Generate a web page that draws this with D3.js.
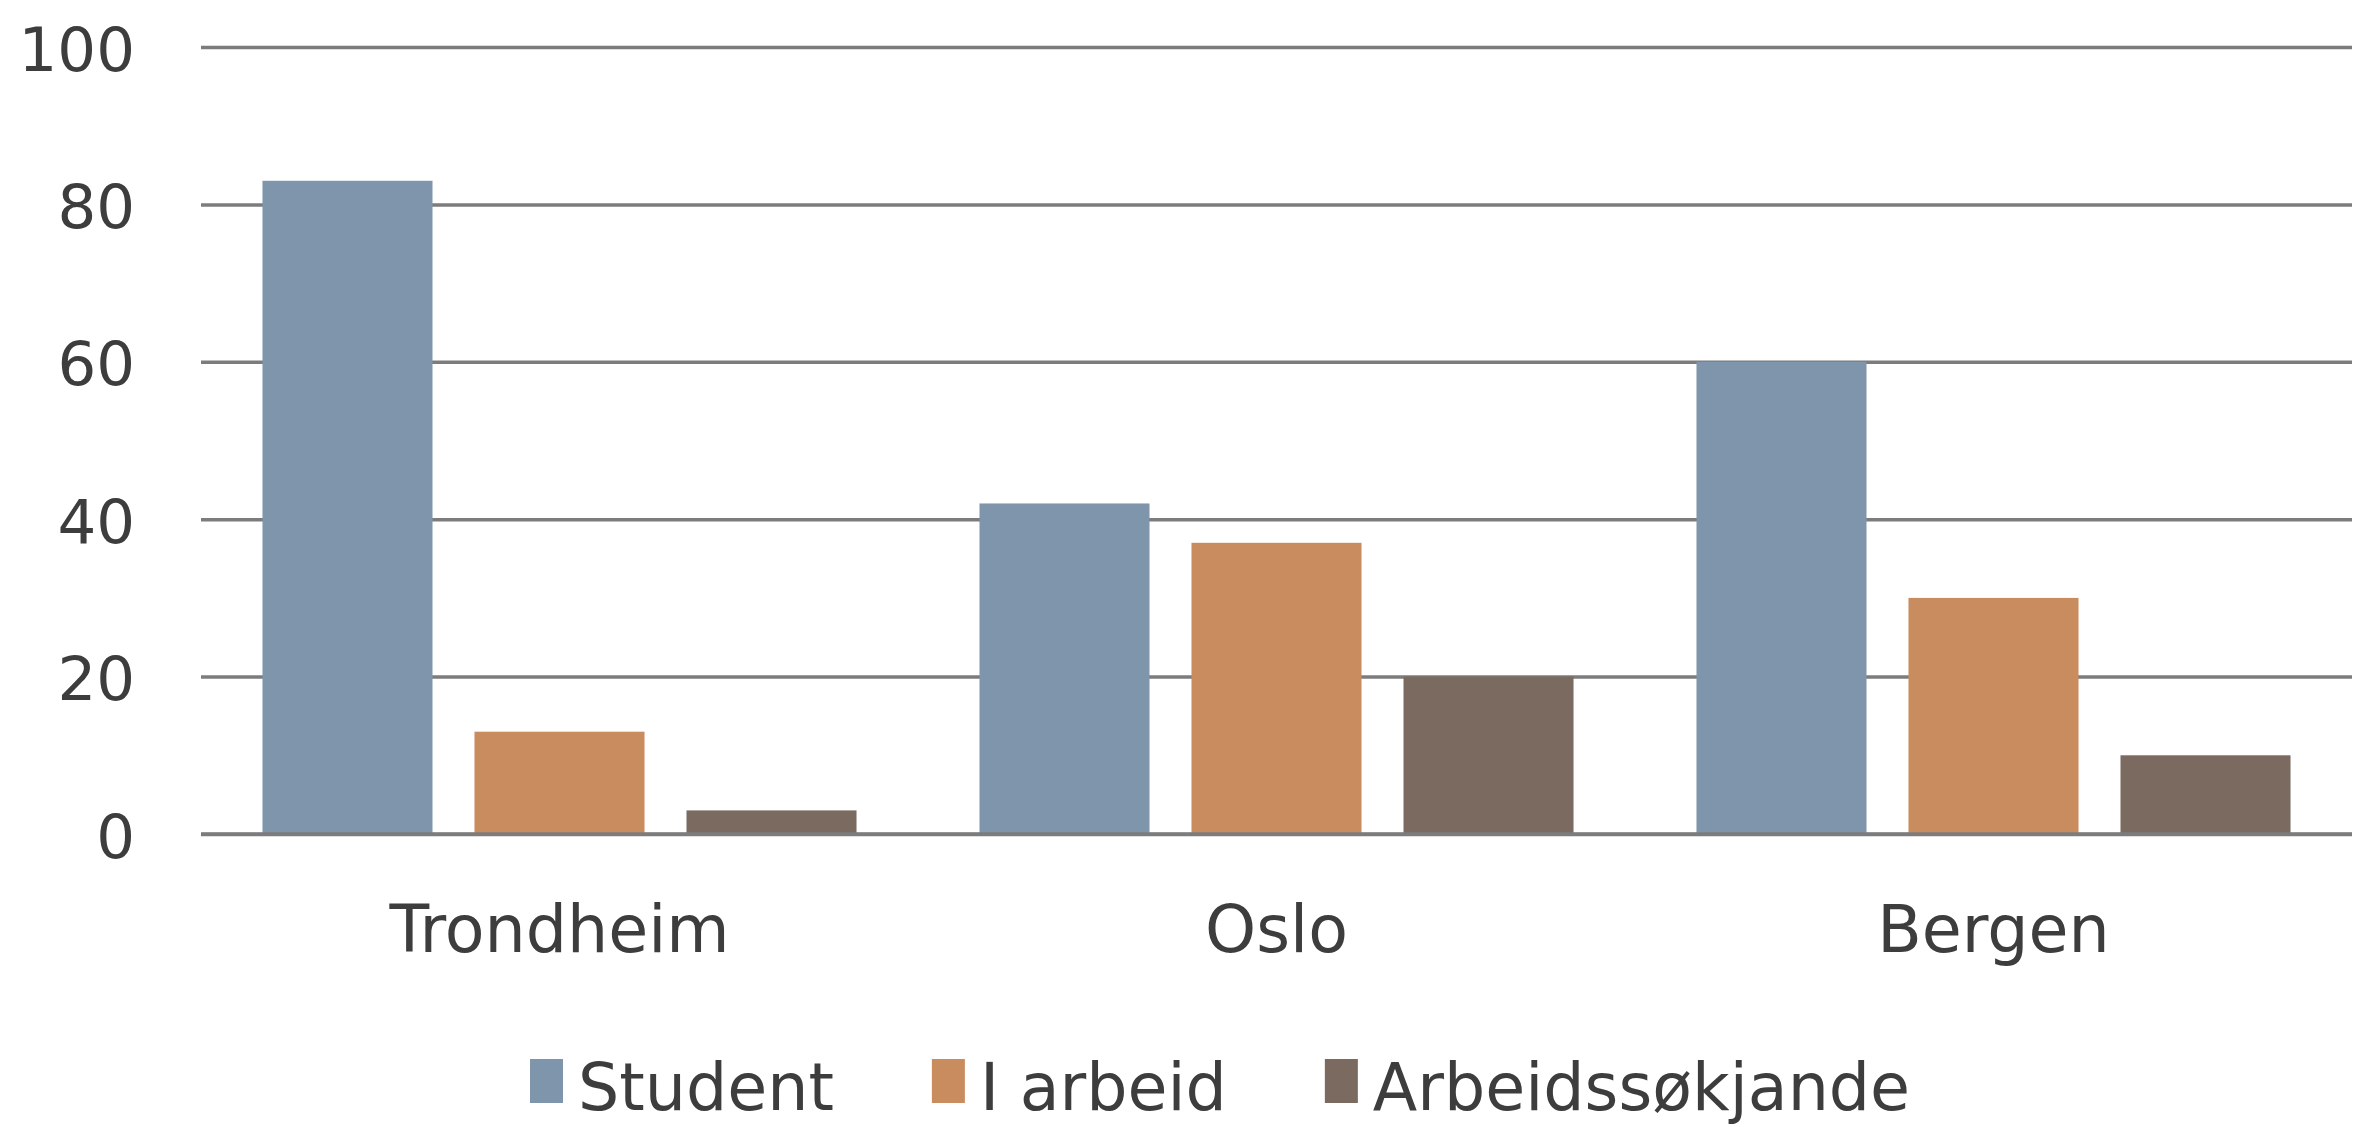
<!DOCTYPE html>
<html>
<head>
<meta charset="utf-8">
<script src="https://cdn.jsdelivr.net/npm/d3@7/dist/d3.min.js"></script>
<style>
  html, body { margin: 0; padding: 0; background: #ffffff; }
  svg { display: block; }
</style>
</head>
<body>
<svg id="chart" width="2375" height="1127"></svg>
<script>
// ---- data ----
const categories = ["Trondheim", "Oslo", "Bergen"];
const seriesNames = ["Student", "I arbeid", "Arbeidssøkjande"];
const studentValues = [83, 42, 60];
const iArbeidValues = [13, 37, 30];
const arbeidssokjandeValues = [3, 20, 10];
const yTicks = [0, 20, 40, 60, 80, 100];
const seriesColors = ["#7f95ac", "#c98c5f", "#7a6a5f"];

const seriesValues = [studentValues, iArbeidValues, arbeidssokjandeValues];
const table = categories.map((c, i) => ({
  category: c,
  values: seriesNames.map((s, j) => ({ series: s, value: seriesValues[j][i] }))
}));

// ---- layout ----
const plot = { left: 201, right: 2352, top: 47, bottom: 834 };
const font = "'DejaVu Sans', sans-serif";
const fontSize = 65;
const tickFontSize = 61;
const textColor = "#3d3d3d";

const svg = d3.select("#chart");

const x0 = d3.scaleBand().domain(categories).range([plot.left, plot.right]).paddingInner(0).paddingOuter(0);
const x1 = d3.scaleBand().domain(seriesNames).range([0, x0.bandwidth()]).paddingInner(0.198).paddingOuter(0.29);
const y = d3.scaleLinear().domain([0, 100]).range([plot.bottom, plot.top]);
const color = d3.scaleOrdinal().domain(seriesNames).range(seriesColors);

// gridlines + y tick labels via axis
const yAxis = d3.axisLeft(y).tickValues(yTicks).tickSize(-(plot.right - plot.left)).tickPadding(66);
const gy = svg.append("g").attr("transform", `translate(${plot.left},0)`).call(yAxis);
gy.select(".domain").remove();
gy.selectAll(".tick line").attr("stroke", "#7c7c7c").attr("stroke-width", 3.5);
gy.selectAll(".tick text")
  .attr("font-family", font).attr("font-size", tickFontSize).attr("fill", textColor)
  .attr("dy", "0.38em");

// bars
const groups = svg.append("g").selectAll("g").data(table).join("g")
  .attr("transform", d => `translate(${x0(d.category)},0)`);
groups.selectAll("rect").data(d => d.values).join("rect")
  .attr("x", d => x1(d.series))
  .attr("width", x1.bandwidth())
  .attr("y", d => y(d.value))
  .attr("height", d => y(0) - y(d.value))
  .attr("fill", d => color(d.series));

// redraw baseline over bars
svg.append("line")
  .attr("x1", plot.left).attr("x2", plot.right)
  .attr("y1", y(0)).attr("y2", y(0))
  .attr("stroke", "#7c7c7c").attr("stroke-width", 3.5);

// x axis labels
const xAxis = d3.axisBottom(x0).tickSize(0).tickPadding(72);
const gx = svg.append("g").attr("transform", `translate(0,${plot.bottom})`).call(xAxis);
gx.select(".domain").remove();
gx.selectAll(".tick text")
  .attr("font-family", font).attr("font-size", fontSize).attr("fill", textColor);

// legend
const legend = svg.append("g");
let lx = 530;
const legendBaseline = 1110;
seriesNames.forEach((s) => {
  legend.append("rect")
    .attr("x", lx).attr("y", 1059).attr("width", 33).attr("height", 44)
    .attr("fill", color(s));
  const t = legend.append("text")
    .attr("x", lx + 48).attr("y", legendBaseline)
    .attr("font-family", font).attr("font-size", fontSize).attr("fill", textColor)
    .text(s);
  const w = t.node().getComputedTextLength();
  lx = lx + 48 + w + 98;
});
</script>
</body>
</html>
